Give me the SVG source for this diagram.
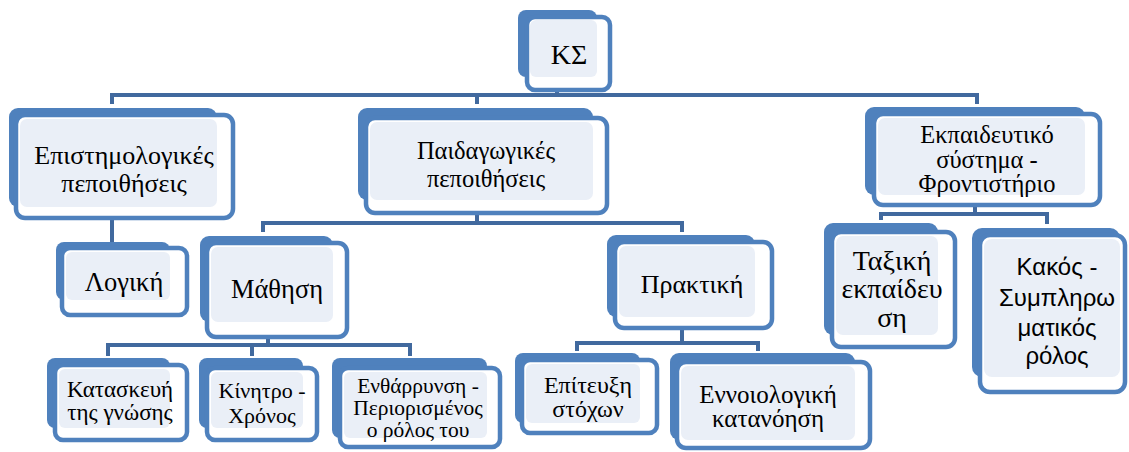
<svg xmlns="http://www.w3.org/2000/svg" width="1129" height="452" viewBox="0 0 1129 452">
<style>
.back{fill:#4F81BD}
.front{fill:#FFFFFF;stroke:#4F81BD;stroke-width:4.5}
.light{fill:#EAEFF7}
.conn{fill:none;stroke:#41699E;stroke-width:4}
.t{font-family:"Liberation Serif","Times New Roman",serif;fill:#000;text-anchor:middle}
.s{font-family:"Liberation Sans",Arial,sans-serif;fill:#000;text-anchor:middle}
</style>
<rect width="1129" height="452" fill="#FFFFFF"/>
<g id="connectors">
<path class="conn" d="M112,104 V95 H977 V104 M477,95 V104 M557,86 V95"/>
<path class="conn" d="M112,216 V244"/>
<path class="conn" d="M477,211 V223 M263,232 V223 H682 V232"/>
<path class="conn" d="M975,203 V214 M881,220 V214 H1047 V224"/>
<path class="conn" d="M268,335 V345 M108,356 V345 H410 V356 M252,345 V356"/>
<path class="conn" d="M682,326 V343 M577,351 V343 H758 V351"/>
</g>
<g id="n-ks">
<rect class="back" x="518" y="10" width="79" height="67" rx="8"/>
<rect class="front" x="527" y="17" width="83" height="73" rx="8"/>
<rect class="light" x="530" y="20" width="67" height="57" rx="6"/>
<text class="t" x="569" y="64" font-size="28">ΚΣ</text>
</g>
<g id="n-epist">
<rect class="back" x="9" y="108" width="208" height="99" rx="9"/>
<rect class="front" x="16" y="115" width="217" height="103" rx="9"/>
<rect class="light" x="20" y="119" width="197" height="88" rx="7"/>
<text class="t" font-size="26"><tspan x="124" y="164">Επιστημολογικές</tspan><tspan x="124" y="192">πεποιθήσεις</tspan></text>
</g>
<g id="n-paid">
<rect class="back" x="358" y="108" width="235" height="92" rx="9"/>
<rect class="front" x="366" y="118" width="241" height="95" rx="9"/>
<rect class="light" x="370" y="122" width="223" height="78" rx="7"/>
<text class="t" font-size="24.5"><tspan x="486" y="159">Παιδαγωγικές</tspan><tspan x="486" y="187">πεποιθήσεις</tspan></text>
</g>
<g id="n-ekp">
<rect class="back" x="865" y="107" width="220" height="88" rx="9"/>
<rect class="front" x="874" y="114" width="226" height="91" rx="9"/>
<rect class="light" x="878" y="118" width="207" height="77" rx="7"/>
<text class="t" font-size="24.5"><tspan x="987" y="143">Εκπαιδευτικό</tspan><tspan x="987" y="168">σύστημα -</tspan><tspan x="987" y="192">Φροντιστήριο</tspan></text>
</g>
<g id="n-logiki">
<rect class="back" x="56" y="242" width="114" height="58" rx="8"/>
<rect class="front" x="62" y="248" width="125" height="67" rx="8"/>
<rect class="light" x="66" y="252" width="104" height="48" rx="6"/>
<text class="t" x="124" y="291" font-size="26.5">Λογική</text>
</g>
<g id="n-mathisi">
<rect class="back" x="200" y="236" width="133" height="86" rx="9"/>
<rect class="front" x="207" y="243" width="140" height="94" rx="9"/>
<rect class="light" x="211" y="247" width="122" height="75" rx="7"/>
<text class="t" x="277" y="298" font-size="26.5">Μάθηση</text>
</g>
<g id="n-praktiki">
<rect class="back" x="607" y="235" width="148" height="82" rx="9"/>
<rect class="front" x="615" y="242" width="157" height="86" rx="9"/>
<rect class="light" x="619" y="246" width="136" height="71" rx="7"/>
<text class="t" x="692" y="293" font-size="26">Πρακτική</text>
</g>
<g id="n-taxiki">
<rect class="back" x="824" y="223" width="114" height="112" rx="9"/>
<rect class="front" x="832" y="232" width="123" height="115" rx="9"/>
<rect class="light" x="836" y="236" width="102" height="99" rx="7"/>
<text class="t" font-size="28"><tspan x="892" y="270">Ταξική</tspan><tspan x="892" y="298">εκπαίδευ</tspan><tspan x="892" y="327">ση</tspan></text>
</g>
<g id="n-kakos">
<rect class="back" x="972" y="228" width="148" height="149" rx="10"/>
<rect class="front" x="980" y="235" width="145" height="157" rx="10"/>
<rect class="light" x="984" y="239" width="136" height="138" rx="8"/>
<text class="s" font-size="24"><tspan x="1057" y="275">Κακός -</tspan><tspan x="1057" y="306">Συμπληρω</tspan><tspan x="1057" y="336">ματικός</tspan><tspan x="1057" y="364">ρόλος</tspan></text>
</g>
<g id="n-kataskevi">
<rect class="back" x="47" y="358" width="123" height="70" rx="8"/>
<rect class="front" x="55" y="365" width="132" height="75" rx="8"/>
<rect class="light" x="59" y="369" width="111" height="59" rx="6"/>
<text class="t" font-size="23"><tspan x="120" y="397">Κατασκευή</tspan><tspan x="120" y="420">της γνώσης</tspan></text>
</g>
<g id="n-kinitro">
<rect class="back" x="199" y="358" width="104" height="70" rx="8"/>
<rect class="front" x="207" y="368" width="110" height="72" rx="8"/>
<rect class="light" x="211" y="372" width="92" height="56" rx="6"/>
<text class="t" font-size="22"><tspan x="262" y="398">Κίνητρο -</tspan><tspan x="262" y="423">Χρόνος</tspan></text>
</g>
<g id="n-entharrynsi">
<rect class="back" x="332" y="358" width="155" height="80" rx="8"/>
<rect class="front" x="340" y="368" width="160" height="79" rx="8"/>
<rect class="light" x="344" y="372" width="143" height="66" rx="6"/>
<text class="t" font-size="21.5"><tspan x="418" y="393">Ενθάρρυνση -</tspan><tspan x="418" y="415">Περιορισμένος</tspan><tspan x="418" y="437">ο ρόλος του</tspan></text>
</g>
<g id="n-epitefxi">
<rect class="back" x="515" y="353" width="125" height="70" rx="8"/>
<rect class="front" x="522" y="360" width="135" height="73" rx="8"/>
<rect class="light" x="526" y="364" width="114" height="59" rx="6"/>
<text class="t" font-size="24"><tspan x="588" y="393">Επίτευξη</tspan><tspan x="588" y="417">στόχων</tspan></text>
</g>
<g id="n-ennoiologiki">
<rect class="back" x="670" y="353" width="185" height="87" rx="9"/>
<rect class="front" x="677" y="362" width="193" height="86" rx="9"/>
<rect class="light" x="681" y="366" width="174" height="74" rx="7"/>
<text class="t" font-size="25"><tspan x="768" y="403">Εννοιολογική</tspan><tspan x="768" y="427">κατανόηση</tspan></text>
</g>
</svg>
